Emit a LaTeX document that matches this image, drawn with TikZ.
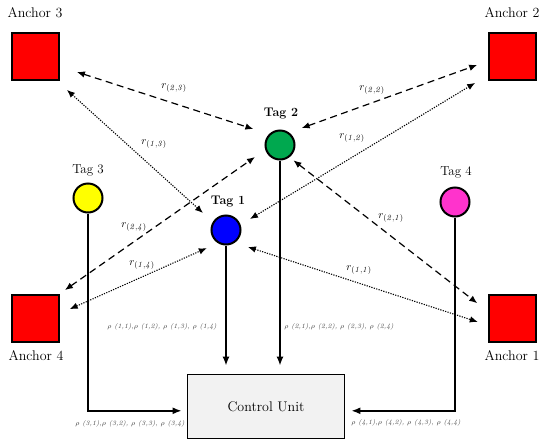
\documentclass[tikz,border=0pt]{standalone}
\usetikzlibrary{arrows.meta,calc}
\definecolor{ancred}{HTML}{FF0000}
\definecolor{taggreen}{HTML}{00A84F}
\definecolor{tagblue}{HTML}{0000FF}
\definecolor{tagyellow}{HTML}{FFFF00}
\definecolor{tagpink}{HTML}{FF33CC}
\definecolor{cufill}{HTML}{F2F2F2}
\definecolor{rhogrey}{HTML}{404040}
\tikzset{
  anchorbox/.style={draw=black,line width=2pt,fill=ancred,minimum size=47pt,inner sep=0pt},
  tagdot/.style={circle,draw=black,line width=2pt,minimum size=29pt,inner sep=0pt},
  anclabel/.style={font=\fontsize{14}{16}\selectfont},
  taglabel/.style={font=\fontsize{13}{15}\selectfont},
  tagboldlabel/.style={font=\fontsize{12.5}{15}\selectfont\bfseries},
  rlabel/.style={font=\fontsize{11}{13}\selectfont,inner sep=0pt},
  rholabel/.style={font=\fontsize{6.7}{8}\selectfont\itshape,text=rhogrey,inner sep=0pt},
  solidarrow/.style={line width=1.6pt,-{Latex[length=9pt,width=7pt]}},
  dasharrow/.style={line width=1.2pt,dash pattern=on 7pt off 4.5pt,{Latex[length=8pt,width=6.5pt]}-{Latex[length=8pt,width=6.5pt]}},
  dotarrow/.style={line width=1.1pt,dash pattern=on 1.2pt off 1.3pt,{Latex[length=8pt,width=6.5pt]}-{Latex[length=8pt,width=6.5pt]}},
  cubox/.style={draw=black,line width=1.8pt,fill=cufill,minimum width=157pt,minimum height=64pt,inner sep=0pt,font=\fontsize{14}{16}\selectfont}
}
\begin{document}
\begin{tikzpicture}[x=1pt,y=-1pt]
\useasboundingbox (0,0) rectangle (550,445);
% anchors
\node[anchorbox] (a3) at (35,56) {};
\node[anchorbox] (a2) at (512,56) {};
\node[anchorbox] (a4) at (35,318) {};
\node[anchorbox] (a1) at (512,318) {};
\node[anclabel] (a3l) at (35,13) {Anchor 3};
\node[anclabel] (a2l) at (512,13) {Anchor 2};
\node[anclabel] (a4l) at (36,356) {Anchor 4};
\node[anclabel] (a1l) at (512,356) {Anchor 1};
% tags
\node[tagdot,fill=tagblue] (t1) at (226,230) {};
\node[tagdot,fill=taggreen] (t2) at (280,145) {};
\node[tagdot,fill=tagyellow] (t3) at (88,198) {};
\node[tagdot,fill=tagpink] (t4) at (455,202) {};
\node[tagboldlabel] (t1l) at (228,202) {Tag 1};
\node[tagboldlabel] (t2l) at (281,114) {Tag 2};
\node[taglabel] (t3l) at (88,170) {Tag 3};
\node[taglabel] (t4l) at (456,172) {Tag 4};
% control unit
\node[cubox] (cu) at (266,406.5) {Control Unit};
% solid arrows to control unit
\draw[solidarrow,shorten >=8pt] (t1) -- (t1 |- cu.north);
\draw[solidarrow,shorten >=8pt] (t2) -- (t2 |- cu.north);
\draw[solidarrow,shorten >=5pt] (t3) |- ($(cu.west)+(0,4.3)$);
\draw[solidarrow,shorten >=6pt] (t4) |- ($(cu.east)+(0,4.3)$);
% range arrows
\draw[dasharrow,shorten <=44pt,shorten >=28pt] ($(a3)+(0,2.4)$) -- ($(t2)+(0,-7.3)$);
\draw[dotarrow,shorten <=43pt,shorten >=31pt] ($(a3)+(0,5)$) -- ($(t1)+(0,3.8)$);
\draw[dasharrow,shorten <=23pt,shorten >=37pt] ($(t2)+(0,-9.1)$) -- ($(a2)+(0,-3.6)$);
\draw[dotarrow,shorten <=28pt,shorten >=43pt] ($(t1)+(0,3.5)$) -- ($(a2)+(0,4.6)$);
\draw[dasharrow,shorten <=17pt,shorten >=44pt] ($(t2)+(0,4.9)$) -- ($(a1)+(0,12.2)$);
\draw[dotarrow,shorten <=23pt,shorten >=36pt] ($(t1)+(0,9.8)$) -- ($(a1)+(0,15.1)$);
\draw[dasharrow,shorten <=36.5pt,shorten >=30.5pt] ($(a4)+(0,-7)$) -- ($(t2)+(0,-5.5)$);
\draw[dotarrow,shorten <=38pt,shorten >=21pt] ($(a4)+(0,6.6)$) -- ($(t1)+(0,9.5)$);
% range labels
\node[rlabel] (r23) at (174,88) {$r_{\mathit{(2,3)}}$};
\node[rlabel] (r13) at (154,144) {$r_{\mathit{(1,3)}}$};
\node[rlabel] (r22) at (372,90) {$r_{\mathit{(2,2)}}$};
\node[rlabel] (r12) at (352,138) {$r_{\mathit{(1,2)}}$};
\node[rlabel] (r21) at (391,218) {$r_{\mathit{(2,1)}}$};
\node[rlabel] (r11) at (359,270) {$r_{\mathit{(1,1)}}$};
\node[rlabel] (r24) at (134,227) {$r_{\mathit{(2,4)}}$};
\node[rlabel] (r14) at (142,265) {$r_{\mathit{(1,4)}}$};
% rho labels
\node[rholabel] (p1) at (162,327) {$\rho$ (1,1),$\rho$ (1,2), $\rho$ (1,3), $\rho$ (1,4)};
\node[rholabel] (p2) at (339,327) {$\rho$ (2,1),$\rho$ (2,2), $\rho$ (2,3), $\rho$ (2,4)};
\node[rholabel] (p3) at (130,424) {$\rho$ (3,1),$\rho$ (3,2), $\rho$ (3,3), $\rho$ (3,4)};
\node[rholabel] (p4) at (406,423) {$\rho$ (4,1),$\rho$ (4,2), $\rho$ (4,3), $\rho$ (4,4)};
\end{tikzpicture}
\end{document}
